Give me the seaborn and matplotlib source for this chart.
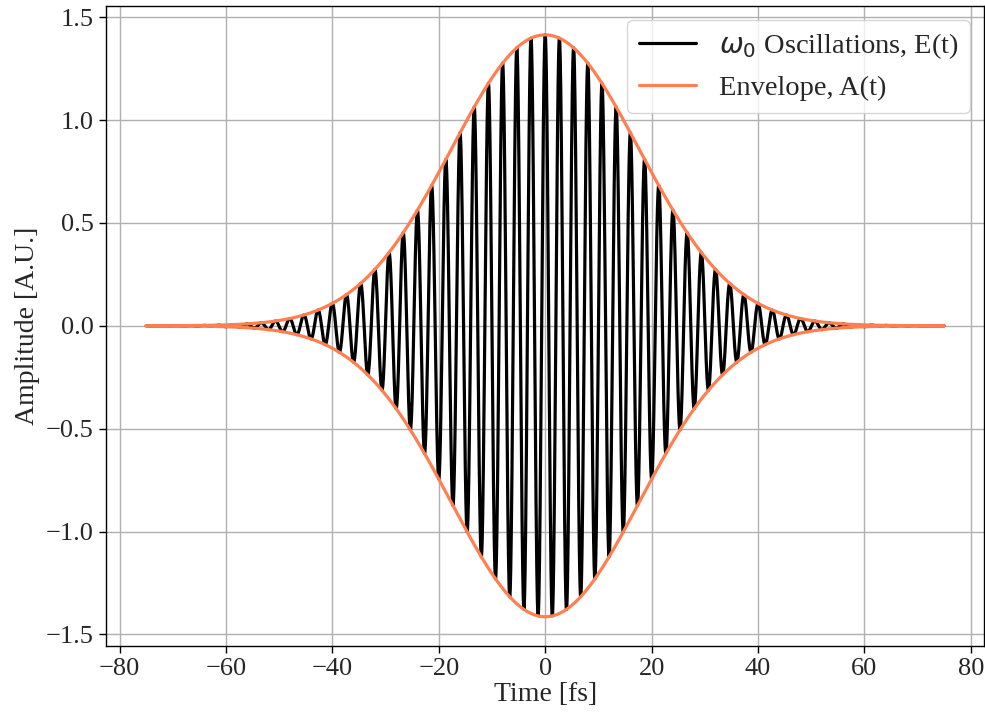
import numpy as np
import pandas as pd
import matplotlib
matplotlib.use("Agg")
import matplotlib.pyplot as plt
import seaborn as sns

# Pulse parameters
t_start, t_stop, n_points = -75.0, 75.0, 6001   # time axis [fs]
peak_amplitude = np.sqrt(2)                      # ~1.414 at t = 0
envelope_tau = 25.0                              # fs, A = A0 exp(-t^2/tau^2)
carrier_period = 2.67                            # fs (800 nm)

time_fs = np.linspace(t_start, t_stop, n_points)
envelope = peak_amplitude * np.exp(-(time_fs / envelope_tau) ** 2)
field = envelope * np.cos(2 * np.pi * time_fs / carrier_period)

x_ticks = [-80, -60, -40, -20, 0, 20, 40, 60, 80]
y_ticks = [-1.5, -1.0, -0.5, 0.0, 0.5, 1.0, 1.5]

sns.set_theme(style="ticks")
plt.rcParams["font.family"] = ["Liberation Serif", "DejaVu Serif"]
plt.rcParams["mathtext.fontset"] = "dejavusans"
plt.rcParams["font.size"] = 19

fig, ax = plt.subplots(figsize=(9.85, 7.2), dpi=100)
fig.subplots_adjust(left=0.108, right=0.999, top=0.992, bottom=0.103)

df = pd.DataFrame({"t": time_fs, "E": field, "A": envelope, "mA": -envelope})
sns.lineplot(data=df, x="t", y="E", color="black", lw=2.3,
             label=r"$\omega_0$ Oscillations, E(t)", ax=ax, estimator=None, sort=False)
sns.lineplot(data=df, x="t", y="A", color="coral", lw=2.3,
             label="Envelope, A(t)", ax=ax, estimator=None, sort=False)
sns.lineplot(data=df, x="t", y="mA", color="coral", lw=2.3,
             ax=ax, estimator=None, sort=False)

ax.set_xticks(x_ticks)
ax.set_yticks(y_ticks)
ax.tick_params(labelsize=19, direction="out", length=5, width=1, color="black", pad=4)
ax.set_xlabel("Time [fs]", fontsize=20, labelpad=1)
ax.set_ylabel("Amplitude [A.U.]", fontsize=20, labelpad=4)
ax.grid(True, color="#b0b0b0", lw=1)
for s in ax.spines.values():
    s.set_color("black")
    s.set_linewidth(1)
ax.margins(x=0.05, y=0.05)
ax.legend(loc="upper right", fontsize=20.5, framealpha=0.8, fancybox=True)

fig.savefig("out.png", dpi=100)
